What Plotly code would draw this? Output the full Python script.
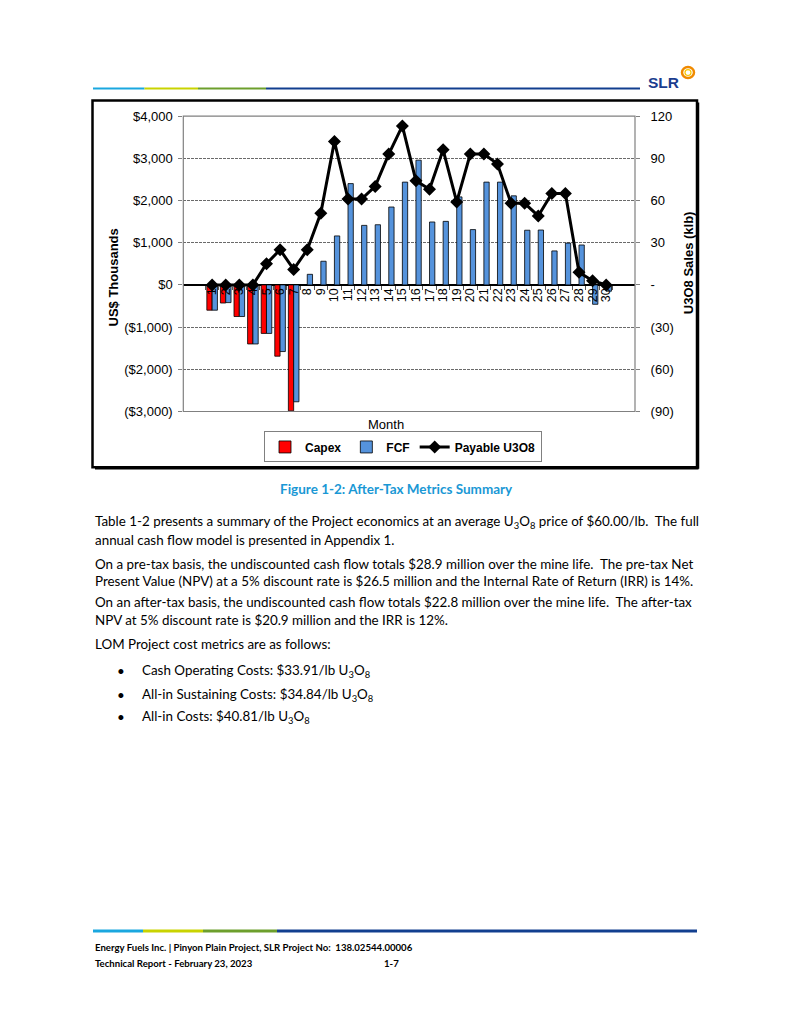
import plotly.graph_objects as go

# ---------------- data ----------------
months = ["1", "2", "3", "4", "5", "6", "7", "8", "9", "10", "11", "12", "13", "14", "15",
          "16", "17", "18", "19", "20", "21", "22", "23", "24", "25", "26", "27", "28", "29", "30"]
capex = [-600, -430, -750, -1400, -1150, -1690, -2985, 0, 0, 0, 0, 0, 0, 0, 0,
         0, 0, 0, 0, 0, 0, 0, 0, 0, 0, 0, 0, 0, 0, 0]
fcf = [-600, -420, -750, -1400, -1150, -1580, -2770, 250, 560, 1160, 2400, 1410, 1425, 1845, 2435,
       2955, 1490, 1505, 2085, 1310, 2435, 2435, 2110, 1295, 1300, 805, 990, 945, -460, -150]
payable = [0, 0, 0, 0, 15, 25, 11, 25, 51, 102, 61, 61, 70, 93, 113,
           74, 68, 96, 59, 93, 93, 86, 58, 58, 49, 65, 65, 9, 3, 0]

left_ticks = [-3000, -2000, -1000, 0, 1000, 2000, 3000, 4000]
left_labels = ["($3,000)", "($2,000)", "($1,000)", "$0", "$1,000", "$2,000", "$3,000", "$4,000"]
right_ticks = [-90, -60, -30, 0, 30, 60, 90, 120]
right_labels = ["(90)", "(60)", "(30)", "-", "30", "60", "90", "120"]

W, H = 790, 1023


def px(x, y):
    return x / W, 1 - y / H


# plot area in page pixels
PL, PR, PT, PB = 183.3, 635.0, 110.7, 410.5
xdom = [PL / W, PR / W]
ydom = [1 - PB / H, 1 - PT / H]
y_lo, y_hi = left_ticks[0], left_ticks[-1]
zero_pos = ydom[0] + (0 - y_lo) / (y_hi - y_lo) * (ydom[1] - ydom[0])

ARIAL = "Liberation Sans, Arial, sans-serif"
BODY = "Lato, Open Sans, sans-serif"

fig = go.Figure()
fig.add_trace(go.Bar(x=months, y=capex, name="Capex", marker=dict(color="#ff0000", line=dict(color="#000000", width=0.8))))
fig.add_trace(go.Bar(x=months, y=fcf, name="FCF", marker=dict(color="#5593dc", line=dict(color="#000000", width=0.8))))
fig.add_trace(go.Scatter(x=months, y=payable, name="Payable U3O8", yaxis="y2", mode="lines+markers",
                         line=dict(color="#000000", width=3),
                         marker=dict(symbol="diamond", size=10, color="#000000")))

fig.update_layout(
    width=W, height=H,
    margin=dict(l=0, r=0, t=0, b=0),
    paper_bgcolor="white", plot_bgcolor="white",
    barmode="group", bargap=0.22, bargroupgap=0,
    showlegend=True,
    legend=dict(orientation="h", x=403 / W, xanchor="center", y=1 - 446.5 / H, yanchor="middle",
                bordercolor="#808080", borderwidth=1, bgcolor="white",
                font=dict(family=ARIAL, size=12, color="#000000", weight="bold"),
                traceorder="normal", itemwidth=30),
    xaxis=dict(type="category", domain=xdom, anchor="free", position=zero_pos,
               tickmode="array", tickvals=months, ticktext=months,
               tickangle=-90, ticks="outside", ticklen=4, tickcolor="#555555", tickson="boundaries",
               showline=False, showgrid=False, zeroline=False,
               tickfont=dict(family=ARIAL, size=12.5, color="#000000")),
    yaxis=dict(domain=ydom, anchor="x", range=[y_lo, y_hi], tickvals=left_ticks, ticktext=left_labels,
               showgrid=True, gridcolor="#6a6a6a", gridwidth=1, griddash="3px,1px",
               zeroline=True, zerolinecolor="#000000", zerolinewidth=2,
               ticks="outside", ticklen=4, tickcolor="#808080", ticklabelstandoff=3,
               showline=False, tickfont=dict(family=ARIAL, size=13, color="#000000")),
    yaxis2=dict(overlaying="y", side="right", anchor="x", range=[right_ticks[0], right_ticks[-1]],
                tickvals=right_ticks, ticktext=right_labels, showgrid=False, zeroline=False,
                ticks="outside", ticklen=4, tickcolor="#808080", ticklabelstandoff=8,
                showline=False, tickfont=dict(family=ARIAL, size=13, color="#000000")),
)

shapes = []
# plot frame
shapes.append(dict(type="rect", xref="paper", yref="paper", x0=xdom[0], x1=xdom[1], y0=ydom[0], y1=ydom[1],
                   line=dict(color="#808080", width=1.2), layer="above"))
# chart outer box
bx0, by0 = px(92.5, 95)
bx1, by1 = px(697, 467)
shapes.append(dict(type="rect", xref="paper", yref="paper", x0=bx0, x1=bx1, y0=by0, y1=by1,
                   line=dict(color="#000000", width=2.5)))
# right/bottom shadow
sx0, sy0 = px(698.5, 97)
sx1, sy1 = px(698.5, 468.5)
shapes.append(dict(type="line", xref="paper", yref="paper", x0=sx0, x1=sx1, y0=sy0, y1=sy1,
                   line=dict(color="#000000", width=1.5)))
tx0, ty0 = px(95, 468.5)
tx1, ty1 = px(698.5, 468.5)
shapes.append(dict(type="line", xref="paper", yref="paper", x0=tx0, x1=tx1, y0=ty0, y1=ty1,
                   line=dict(color="#000000", width=1.5)))

# header colour rule
header_segments = [(93, 144.5, "#1aa7df"), (144.5, 198, "#c9d300"), (198, 266, "#6d9f2c"), (266, 640, "#123f8f")]
for a, b, c in header_segments:
    x0, y0 = px(a, 82.7)
    x1, _ = px(b, 82.7)
    shapes.append(dict(type="line", xref="paper", yref="paper", x0=x0, x1=x1, y0=y0, y1=y0,
                       line=dict(color=c, width=2)))
# footer colour rule
footer_segments = [(93, 143, "#1aa7df"), (143, 203, "#c9d300"), (203, 277, "#6d9f2c"), (277, 697, "#123f8f")]
for a, b, c in footer_segments:
    x0, y0 = px(a, 937.7)
    x1, _ = px(b, 937.7)
    shapes.append(dict(type="line", xref="paper", yref="paper", x0=x0, x1=x1, y0=y0, y1=y0,
                       line=dict(color=c, width=3)))
# logo ring
cx0, cy0 = px(682, 61)
cx1, cy1 = px(694, 72)
shapes.append(dict(type="circle", xref="paper", yref="paper", x0=cx0, x1=cx1, y0=cy1, y1=cy0,
                   line=dict(color="#f08a00", width=2.5)))
cx0, cy0 = px(685, 63.5)
cx1, cy1 = px(691, 69.5)
shapes.append(dict(type="circle", xref="paper", yref="paper", x0=cx0, x1=cx1, y0=cy1, y1=cy0,
                   line=dict(color="#f7c600", width=1.2)))
fig.update_layout(shapes=shapes)

ann = []


def add_text(x, y, text, size, family=BODY, color="#000000", xanchor="left", bold=False, angle=0):
    ax, ay = px(x, y)
    ann.append(dict(xref="paper", yref="paper", x=ax, y=ay, xanchor=xanchor, yanchor="middle",
                    text=text, showarrow=False, textangle=angle,
                    font=dict(family=family, size=size, color=color, weight="bold" if bold else "normal")))


# chart axis titles
add_text(113, 274.5, "US$ Thousands", 13, family=ARIAL, xanchor="center", bold=True, angle=-90)
add_text(688, 260, "U3O8 Sales (klb)", 13, family=ARIAL, xanchor="center", bold=True, angle=-90)
add_text(386, 424, "Month", 13, family=ARIAL, xanchor="center")

# header logo text
add_text(646, 77, "SLR", 15.5, family=ARIAL, color="#1b3d8f", bold=True)

# caption
add_text(396, 489, "Figure 1-2: After-Tax Metrics Summary", 13.5, color="#1a98d5", xanchor="center", bold=True)

U3O8 = "U<sub>3</sub>O<sub>8</sub>"
body = [
    (523, 93, "Table 1-2 presents a summary of the Project economics at an average " + U3O8 + " price of $60.00/lb.\u00a0 The full"),
    (540.5, 93, "annual cash flow model is presented in Appendix 1."),
    (565, 93, "On a pre-tax basis, the undiscounted cash flow totals $28.9 million over the mine life.\u00a0 The pre-tax Net"),
    (582.5, 93, "Present Value (NPV) at a 5% discount rate is $26.5 million and the Internal Rate of Return (IRR) is 14%."),
    (604, 93, "On an after-tax basis, the undiscounted cash flow totals $22.8 million over the mine life.\u00a0 The after-tax"),
    (622, 93, "NPV at 5% discount rate is $20.9 million and the IRR is 12%."),
    (646, 93, "LOM Project cost metrics are as follows:"),
    (674, 140, "Cash Operating Costs: $33.91/lb " + U3O8),
    (698, 140, "All-in Sustaining Costs: $34.84/lb " + U3O8),
    (721, 140, "All-in Costs: $40.81/lb " + U3O8),
]
for y, x, t in body:
    add_text(x, y, t, 13.4)
for y in (674, 698, 721):
    add_text(121, y, "\u2022", 13.4, xanchor="center")

# footer
add_text(93, 955, "Energy Fuels Inc. | Pinyon Plain Project, SLR Project No:\u00a0 138.02544.00006", 9.6, bold=True)
add_text(93, 970.5, "Technical Report - February 23, 2023", 9.6, bold=True)
add_text(401, 970.5, "1-7", 9.6, bold=True, xanchor="right")

fig.update_layout(annotations=ann)
fig.write_html("out.html", config={"displayModeBar": False},
               post_script="document.body.style.margin='0';document.body.style.overflow='hidden';")
